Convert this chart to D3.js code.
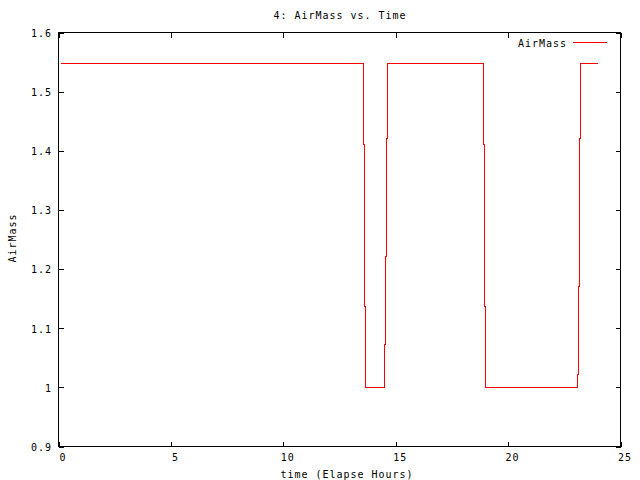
<!DOCTYPE html>
<html>
<head>
<meta charset="utf-8">
<script src="https://cdn.jsdelivr.net/npm/d3@7"></script>
<style>
  html, body { margin: 0; padding: 0; background: #fff; }
  svg { display: block; }
  text { font-family: "DejaVu Sans Mono", monospace; font-size: 10px; letter-spacing: 0.98px; fill: #000; }
</style>
</head>
<body>
<svg id="chart" width="640" height="480"></svg>
<script>
// Data (time in elapsed hours, airmass)
const timeHours = [0.089, 13.568, 13.612, 13.657, 14.502, 14.546, 14.591, 14.635,
                   18.906, 18.950, 18.995, 23.087, 23.132, 23.176, 23.221, 23.977];
const airMass   = [1.5476, 1.4106, 1.1367, 1.0, 1.0724, 1.2212, 1.4208, 1.5476,
                   1.4106, 1.1367, 1.0, 1.0217, 1.1705, 1.4208, 1.5476, 1.5476];
const xTicks = [0, 5, 10, 15, 20, 25];
const yTicks = [0.9, 1.0, 1.1, 1.2, 1.3, 1.4, 1.5, 1.6];
const titleText = "4: AirMass vs. Time";
const xLabel = "time (Elapse Hours)";
const yLabel = "AirMass";
const seriesName = "AirMass";

const svg = d3.select("#chart");
const pL = 58.5, pR = 620.5, pT = 32.5, pB = 446.5;
const x = d3.scaleLinear().domain([0, 25]).range([pL, pR]);
const y = d3.scaleLinear().domain([0.9, 1.6]).range([pB, pT]);
const yFmt = d => (Math.abs(d - 1) < 1e-9 ? "1" : d3.format(".1f")(d));

// Axes: ticks inward, mirrored
const gL = svg.append("g").attr("transform", `translate(${pL},0)`)
  .call(d3.axisLeft(y).tickValues(yTicks).tickSize(-5).tickPadding(6.5).tickFormat(yFmt));
gL.selectAll("text").attr("dy", null).attr("y", 3.8);
const gB = svg.append("g").attr("transform", `translate(0,${pB})`)
  .call(d3.axisBottom(x).tickValues(xTicks).tickSize(-5).tickFormat(d3.format("d")));
gB.selectAll("text").attr("dy", null).attr("y", 14.5).attr("dx", 4);
svg.append("g").attr("transform", `translate(${pR},0)`)
  .call(d3.axisRight(y).tickValues(yTicks).tickSize(-5).tickFormat(""));
svg.append("g").attr("transform", `translate(0,${pT})`)
  .call(d3.axisTop(x).tickValues(xTicks).tickSize(-5).tickFormat(""));
svg.selectAll(".domain").remove();
svg.selectAll(".tick line").attr("stroke", "#000").attr("shape-rendering", "crispEdges");
svg.selectAll(".tick text").style("font-family", "DejaVu Sans Mono").style("font-size", "10px");

// Border
svg.append("rect").attr("x", pL).attr("y", pT)
  .attr("width", pR - pL).attr("height", pB - pT)
  .attr("fill", "none").attr("stroke", "#000").attr("stroke-width", 1)
  .attr("shape-rendering", "crispEdges");

// Data line (steps)
const pts = timeHours.map((t, i) => [t, airMass[i]]);
const line = d3.line().x(d => x(d[0])).y(d => y(d[1])).curve(d3.curveStepAfter);
svg.append("path").datum(pts).attr("d", line)
  .attr("fill", "none").attr("stroke", "#ff0000").attr("stroke-width", 1)
  .attr("shape-rendering", "crispEdges");

// Title & labels
svg.append("text").attr("x", 340).attr("y", 19).attr("text-anchor", "middle").text(titleText);
svg.append("text").attr("x", 347).attr("y", 477.5).attr("text-anchor", "middle").text(xLabel);
svg.append("text").attr("transform", "translate(15.5,238) rotate(-90)")
  .attr("text-anchor", "middle").text(yLabel);

// Legend
svg.append("text").attr("x", 567).attr("y", 46.5).attr("text-anchor", "end").text(seriesName);
svg.append("line").attr("x1", 573).attr("x2", 607).attr("y1", 42.5).attr("y2", 42.5)
  .attr("stroke", "#ff0000").attr("stroke-width", 1).attr("shape-rendering", "crispEdges");
</script>
</body>
</html>
